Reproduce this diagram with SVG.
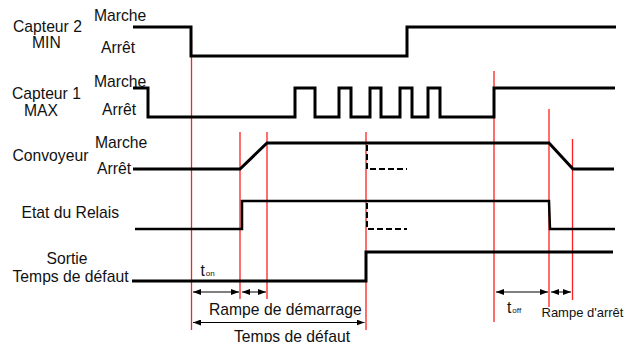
<svg xmlns="http://www.w3.org/2000/svg" width="633" height="342" viewBox="0 0 633 342">
<style>
text{font-family:"Liberation Sans",Arial,sans-serif;fill:#111;font-size:15.7px}
.sm{font-size:13px}
.sub{font-size:8px}
.sig{fill:none;stroke:#000;stroke-width:3;stroke-linejoin:miter}
.rel{fill:none;stroke:#000;stroke-width:2.5}
.dash{fill:none;stroke:#000;stroke-width:2;stroke-dasharray:6 3}
.red{stroke:#ff2020;stroke-width:1.3}
.dim{stroke:#000;stroke-width:1;marker-start:url(#ah);marker-end:url(#ah)}
</style>
<defs>
<marker id="ah" viewBox="0 0 8 6" refX="8" refY="3" markerWidth="8" markerHeight="6" markerUnits="userSpaceOnUse" orient="auto-start-reverse">
<path d="M0,0 L8,3 L0,6 Z" fill="#000"/>
</marker>
</defs>
<rect width="633" height="342" fill="#fff"/>
<g id="labels">
<text x="13" y="32">Capteur 2</text>
<text x="32" y="48">MIN</text>
<text x="94" y="21">Marche</text>
<text x="101" y="53">Arrêt</text>
<text x="12" y="98.5">Capteur 1</text>
<text x="24" y="115.5">MAX</text>
<text x="94" y="87">Marche</text>
<text x="102" y="114.5">Arrêt</text>
<text x="12.5" y="161">Convoyeur</text>
<text x="95" y="148">Marche</text>
<text x="97" y="174">Arrêt</text>
<text x="21.5" y="218">Etat du Relais</text>
<text x="46.5" y="264">Sortie</text>
<text x="12.5" y="282">Temps de défaut</text>
</g>
<g id="connectors">
<g id="red-markers">
<line class="red" x1="191.5" y1="40" x2="191.5" y2="330"/>
<line class="red" x1="240" y1="132" x2="240" y2="299"/>
<line class="red" x1="267" y1="132" x2="267" y2="299"/>
<line class="red" x1="366" y1="132" x2="366" y2="330"/>
<line class="red" x1="494" y1="71" x2="494" y2="322"/>
<line class="red" x1="549" y1="109" x2="549" y2="307"/>
<line class="red" x1="572.5" y1="139" x2="572.5" y2="300"/>
</g>
<path id="capteur2" class="sig" d="M133,27 H191 V56 H407 V27 H616"/>
<path id="capteur1" class="sig" d="M133,88 H148 V117 H295 V88 H315 V117 H339 V88 H351 V117 H370 V88 H381 V117 H400 V88 H412 V117 H428 V88 H440 V117 H494 V88 H615"/>
<path id="convoyeur" class="sig" d="M133,169 H240 L267,143 H549 L573,169 H614"/>
<path class="dash" d="M367,145 V169 H407"/>
<path id="relais" class="rel" d="M135,229 H242 V201 H549 L550,229 H615"/>
<path class="dash" d="M367,203 V229 H407"/>
<path id="sortie" class="sig" d="M132,281 H366 V252 H613"/>
<g id="dimensions">
<line class="dim" x1="193" y1="292" x2="239" y2="292"/>
<line class="dim" x1="242" y1="292" x2="266" y2="292"/>
<line class="dim" x1="193" y1="322.5" x2="364.5" y2="322.5"/>
<line class="dim" x1="496" y1="292" x2="548" y2="292"/>
<line class="dim" x1="551" y1="292" x2="571" y2="292"/>
</g>
</g>
<g id="dim-labels">
<text x="200.5" y="276">t<tspan class="sub" dx="1">on</tspan></text>
<text x="209" y="315">Rampe de démarrage</text>
<text x="234" y="341.5">Temps de défaut</text>
<text x="507" y="313">t<tspan class="sub" dx="1">off</tspan></text>
<text class="sm" x="541.5" y="317">Rampe d'arrêt</text>
</g>
</svg>
